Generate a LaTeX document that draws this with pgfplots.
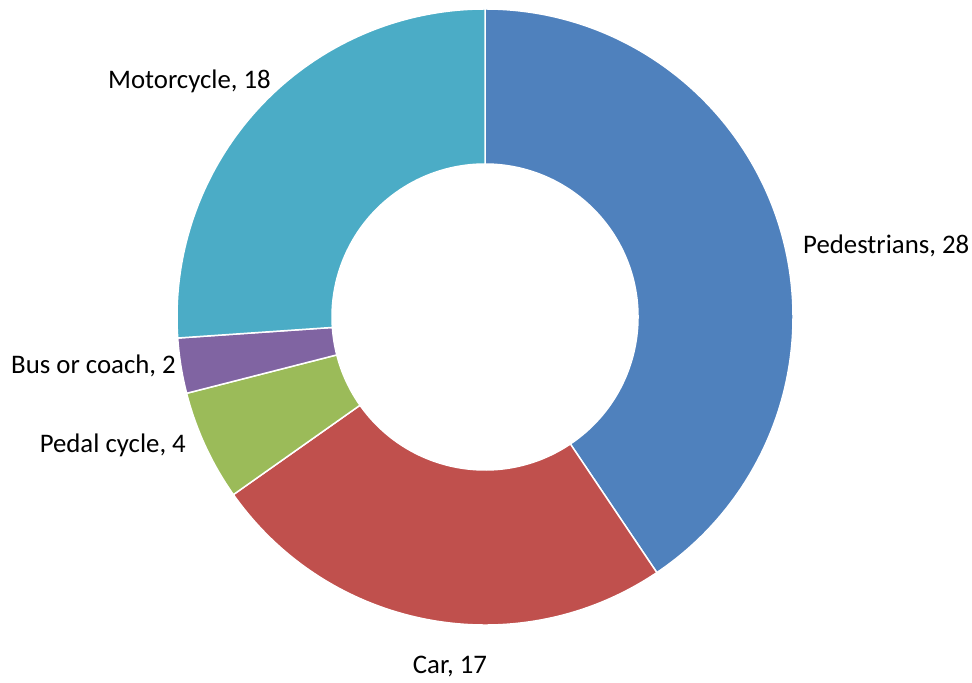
\documentclass[border=0pt]{standalone}
\usepackage{pgfplots}
\pgfplotsset{compat=1.18}
\usepackage{pgfplotstable}
\usepackage{fontspec}
\setmainfont{Carlito}
\definecolor{c0}{HTML}{4F81BD}
\definecolor{c1}{HTML}{C0504D}
\definecolor{c2}{HTML}{9BBB59}
\definecolor{c3}{HTML}{8064A2}
\definecolor{c4}{HTML}{4BACC6}
\pgfplotstableread[col sep=comma]{
label,value,lx,ly,anc
Pedestrians,28,803,437,west
Car,17,450,16,center
Pedal cycle,4,186,238,east
Bus or coach,2,176,317,east
Motorcycle,18,271,602,east
}\datatable
% cumulative angles computed from the values
\gdef\total{0}
\foreach \i in {0,...,4}{%
  \pgfplotstablegetelem{\i}{value}\of\datatable
  \pgfmathsetmacro\t{\total+\pgfplotsretval}%
  \xdef\total{\t}%
}
\gdef\acc{0}
\foreach \i in {0,...,4}{%
  \pgfplotstablegetelem{\i}{value}\of\datatable
  \edef\val{\pgfplotsretval}%
  \pgfmathsetmacro\aS{90-\acc/\total*360}%
  \pgfmathsetmacro\newacc{\acc+\val}%
  \pgfmathsetmacro\aE{90-\newacc/\total*360}%
  \xdef\acc{\newacc}%
  \expandafter\xdef\csname aS\i\endcsname{\aS}%
  \expandafter\xdef\csname aE\i\endcsname{\aE}%
  \expandafter\xdef\csname val\i\endcsname{\val}%
  \pgfplotstablegetelem{\i}{label}\of\datatable
  \expandafter\xdef\csname lab\i\endcsname{\pgfplotsretval}%
  \pgfplotstablegetelem{\i}{lx}\of\datatable
  \expandafter\xdef\csname lx\i\endcsname{\pgfplotsretval}%
  \pgfplotstablegetelem{\i}{ly}\of\datatable
  \expandafter\xdef\csname ly\i\endcsname{\pgfplotsretval}%
  \pgfplotstablegetelem{\i}{anc}\of\datatable
  \expandafter\xdef\csname anc\i\endcsname{\pgfplotsretval}%
}
\begin{document}
\begin{tikzpicture}
\begin{axis}[x=1bp,y=1bp,xmin=0,xmax=972,ymin=0,ymax=683,hide axis,clip=false]
\coordinate (LL) at (axis cs:0,0);
\coordinate (UR) at (axis cs:972,683);
\coordinate (O) at (axis cs:485,366);
\pgfplotsinvokeforeach{0,...,4}{%
  \fill[c#1, draw=white, line width=1.5bp]
    ([shift={(\csname aS#1\endcsname:308bp)}]O)
      arc[start angle=\csname aS#1\endcsname, end angle=\csname aE#1\endcsname, radius=308bp]
    -- ([shift={(\csname aE#1\endcsname:153bp)}]O)
      arc[start angle=\csname aE#1\endcsname, end angle=\csname aS#1\endcsname, radius=153bp]
    -- cycle;
  \node[anchor=\csname anc#1\endcsname, inner sep=0pt, font=\fontsize{26.8bp}{31bp}\selectfont]
    at (axis cs:\csname lx#1\endcsname,\csname ly#1\endcsname) {\csname lab#1\endcsname, \csname val#1\endcsname};
}
\end{axis}
\pgfresetboundingbox
\path (LL) rectangle (UR);
\end{tikzpicture}
\end{document}
